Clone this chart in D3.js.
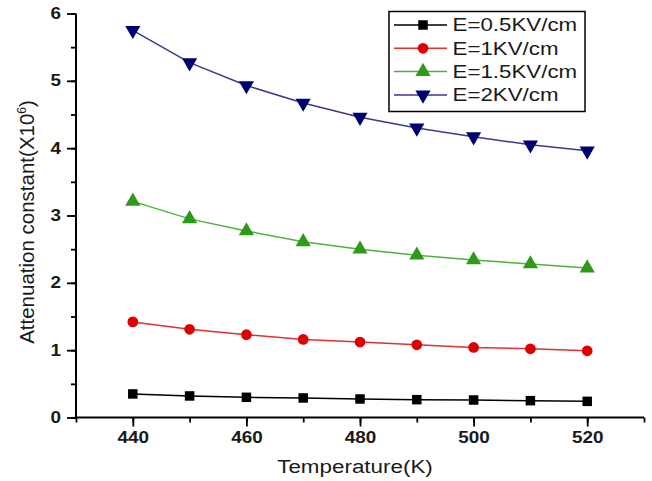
<!DOCTYPE html>
<html>
<head>
<meta charset="utf-8">
<script src="https://cdn.jsdelivr.net/npm/d3@7"></script>
<style>
html,body{margin:0;padding:0;background:#fff;}
svg{display:block;font-family:"Liberation Sans",Arial,sans-serif;}
</style>
</head>
<body>
<svg id="chart" width="652" height="481"></svg>
<script>
const temperatures = [440, 450, 460, 470, 480, 490, 500, 510, 520];
const seriesNames = ["E=0.5KV/cm", "E=1KV/cm", "E=1.5KV/cm", "E=2KV/cm"];
const e05 = [0.35, 0.32, 0.30, 0.29, 0.275, 0.265, 0.26, 0.25, 0.24];
const e1  = [1.42, 1.31, 1.23, 1.16, 1.12, 1.08, 1.04, 1.02, 0.99];
const e15 = [3.21, 2.95, 2.77, 2.61, 2.50, 2.41, 2.34, 2.28, 2.22];
const e2  = [5.75, 5.27, 4.93, 4.67, 4.46, 4.30, 4.17, 4.05, 3.96];
const xTicks = [440, 460, 480, 500, 520];
const yTicks = [0, 1, 2, 3, 4, 5, 6];
const xLabel = "Temperature(K)";
const yLabel = "Attenuation constant(X10";
const ySup = "6";

const seriesValues = [e05, e1, e15, e2];
const lineColors = ["#000000", "#e03030", "#50b040", "#3a3a88"];
const markColors = ["#000000", "#e00000", "#2f9a1a", "#000070"];
const symbols = [d3.symbolSquare, d3.symbolCircle, d3.symbolTriangle, d3.symbolTriangle];
const symSizes = [90, 90, 100, 100];
const rotations = [0, 0, 0, 180];
const stretch = 1.18;

const svg = d3.select("#chart");
const x = d3.scaleLinear().domain([430, 530]).range([76, 644]);
const y = d3.scaleLinear().domain([0, 6]).range([417.5, 13.5]);

// axes
const gx = svg.append("g").attr("transform", `translate(0,${y(0)})`);
gx.call(d3.axisBottom(x).tickValues(d3.range(430, 531, 10)).tickSize(5).tickFormat(""));
gx.call(g => g.select(".domain").remove());
const gxm = gx.append("g").call(d3.axisBottom(x).tickValues(xTicks).tickSize(9).tickPadding(5).tickFormat(d3.format("d")));
gxm.select(".domain").remove();
gx.append("line").attr("x1", x(430)).attr("x2", x(530)).attr("stroke", "#000").attr("stroke-width", 2);

const gy = svg.append("g").attr("transform", `translate(${x(430)},0)`);
gy.call(d3.axisLeft(y).tickValues(d3.range(0, 6.01, 0.5)).tickSize(5).tickFormat(""));
gy.call(g => g.select(".domain").remove());
const gym = gy.append("g").call(d3.axisLeft(y).tickValues(yTicks).tickSize(9).tickPadding(6).tickFormat(d3.format("d")));
gym.select(".domain").remove();
gy.append("line").attr("y1", y(0)).attr("y2", y(6)).attr("stroke", "#000").attr("stroke-width", 2);

svg.selectAll(".tick line").attr("stroke", "#000").attr("stroke-width", 1.8);
svg.selectAll(".tick text").attr("fill", "#1a1a1a").style("font-size", "16px").style("font-weight", "bold")
  .style("font-family", "'Liberation Sans',Arial,sans-serif");
gxm.selectAll(".tick text").attr("transform", `scale(${stretch},1)`);
gym.selectAll(".tick text").each(function() {
  const t = d3.select(this);
  const xx = +t.attr("x");
  t.attr("x", 0).attr("transform", `translate(${xx},0) scale(${stretch},1)`);
});

// titles
svg.append("text").attr("transform", `translate(355,473) scale(${stretch},1)`).attr("text-anchor", "middle")
  .style("font-size", "19px").attr("fill", "#1a1a1a").text(xLabel);
const yt = svg.append("text").attr("transform", "translate(34,222) rotate(-90)")
  .attr("text-anchor", "middle").style("font-size", "20.5px").attr("fill", "#1a1a1a");
yt.append("tspan").text(yLabel);
yt.append("tspan").attr("dy", -8).style("font-size", "12px").text(ySup);
yt.append("tspan").attr("dy", 8).text(")");

// lines and markers
const line = d3.line().x((d, i) => x(temperatures[i])).y(d => y(d));
seriesValues.forEach((vals, s) => {
  svg.append("path").datum(vals).attr("d", line).attr("fill", "none")
    .attr("stroke", lineColors[s]).attr("stroke-width", 1.5);
  svg.selectAll(null).data(vals).enter().append("path")
    .attr("d", d3.symbol().type(symbols[s]).size(symSizes[s]))
    .attr("transform", (d, i) => `translate(${x(temperatures[i])},${y(d)}) rotate(${rotations[s]})`)
    .attr("fill", markColors[s]);
});

// legend
const lg = svg.append("g");
lg.append("rect").attr("x", 389).attr("y", 11.5).attr("width", 196).attr("height", 100)
  .attr("fill", "#fff").attr("stroke", "#000").attr("stroke-width", 1.5);
seriesNames.forEach((name, s) => {
  const ly = 25 + s * 23.3;
  lg.append("line").attr("x1", 394).attr("x2", 447).attr("y1", ly).attr("y2", ly)
    .attr("stroke", lineColors[s]).attr("stroke-width", 1.5);
  lg.append("path").attr("d", d3.symbol().type(symbols[s]).size(symSizes[s]))
    .attr("transform", `translate(423,${ly}) rotate(${rotations[s]})`).attr("fill", markColors[s]);
  lg.append("text").attr("transform", `translate(452.5,${ly}) scale(1.24,1)`).attr("dy", "0.36em")
    .style("font-size", "18px").attr("fill", "#1a1a1a").text(name);
});
</script>
</body>
</html>
